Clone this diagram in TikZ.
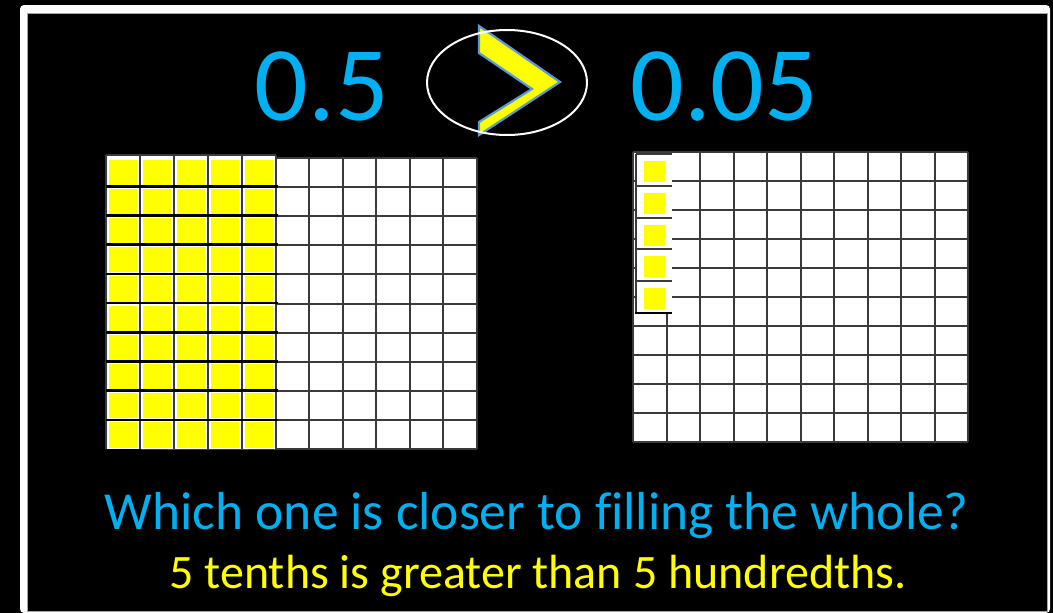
\documentclass[tikz,border=0pt]{standalone}
\usepackage{fontspec}
\setmainfont[Ligatures=CommonOff]{Carlito}
\definecolor{tblue}{HTML}{00B0F0}
\definecolor{tyel}{HTML}{FFFF00}
\definecolor{chev}{HTML}{5B9BD5}
\definecolor{gline}{HTML}{3A3A3A}
\begin{document}
\begin{tikzpicture}[x=1pt,y=-1pt,
  gridline/.style={draw=gline,line width=2pt},
  blackline/.style={draw=black,line width=2.6pt},
  bigtxt/.style={text=tblue,inner sep=0pt,anchor=base,font=\fontsize{106}{106}\selectfont},
  qtxt/.style={text=tblue,inner sep=0pt,anchor=base,font=\fontsize{53.5}{53.5}\selectfont},
  atxt/.style={text=tyel,inner sep=0pt,anchor=base,font=\fontsize{48}{48}\selectfont}]
\useasboundingbox (0,0) rectangle (1053,613);
\fill[black] (0,0) rectangle (1053,613);
% frame
\fill[white,rounded corners=4pt] (20,5) rectangle (1050,613);
\filldraw[fill=black,draw=gray!70,line width=0.8pt] (27,13) rectangle (1047,611.5);

% ---- left hundred grid (underlying) ----
\fill[white] (141,158) rectangle (477,449);
\foreach \i in {0,...,10} \draw[gridline] ({141+33.6*\i},158) -- ({141+33.6*\i},449);
\foreach \j in {0,...,10} \draw[gridline] (141,{158+29.1*\j}) -- (477,{158+29.1*\j});
% overlay: five tenths
\fill[white] (106,155) rectangle (276,449);
\foreach \i in {0,...,4}
  \foreach \j in {0,...,9}
    \fill[tyel] ({106+34*\i+3},{157+29.2*\j+2.5}) rectangle ({106+34*(\i+1)-3},{157+29.2*(\j+1)-1.5});
\foreach \i in {0,...,5} \draw[gridline] ({106+34*\i},155) -- ({106+34*\i},449);
\draw[gridline] (106,155) -- (276,155);
\foreach \j in {1,...,9} \draw[blackline] (106,{157+29.2*\j}) -- (278,{157+29.2*\j});

% ---- right hundred grid ----
\fill[white] (633,152) rectangle (968,442);
\foreach \i in {0,...,10} \draw[gridline] ({633+33.5*\i},152) -- ({633+33.5*\i},442);
\foreach \j in {0,...,10} \draw[gridline] (633,{152+29*\j}) -- (968,{152+29*\j});
% overlay: five hundredths
\fill[white] (636,154) rectangle (672,313);
\foreach \j in {0,...,4}
  \fill[tyel] (644,{154+31.8*\j+7}) rectangle (665,{154+31.8*\j+28});
\draw[gridline,line width=2.6pt] (636,154) -- (636,313);
\draw[gridline] (636,154) -- (672,154);
\foreach \j in {1,...,4} \draw[gridline] (636,{154+31.8*\j}) -- (672,{154+31.8*\j});
\draw[blackline] (635,313) -- (672,313);

% ---- comparison sign ----
\filldraw[fill=tyel,draw=chev,line width=2.2pt,line join=miter]
  (479,26) -- (560,82) -- (479,135) -- (479,122) -- (532,89) -- (479,53) -- cycle;
\draw[white,line width=2pt] (507,82.5) ellipse [x radius=80, y radius=52.5];

% ---- texts ----
\node[bigtxt] (half) at (322,120) {0.5};
\node[bigtxt] (fivehund) at (724.5,120) {0.05};
\node[qtxt] (question) at (537,529) {Which one is closer to filling the whole?};
\node[atxt] (answer) at (538,588) {5 tenths is greater than 5 hundredths.};
\end{tikzpicture}
\end{document}
